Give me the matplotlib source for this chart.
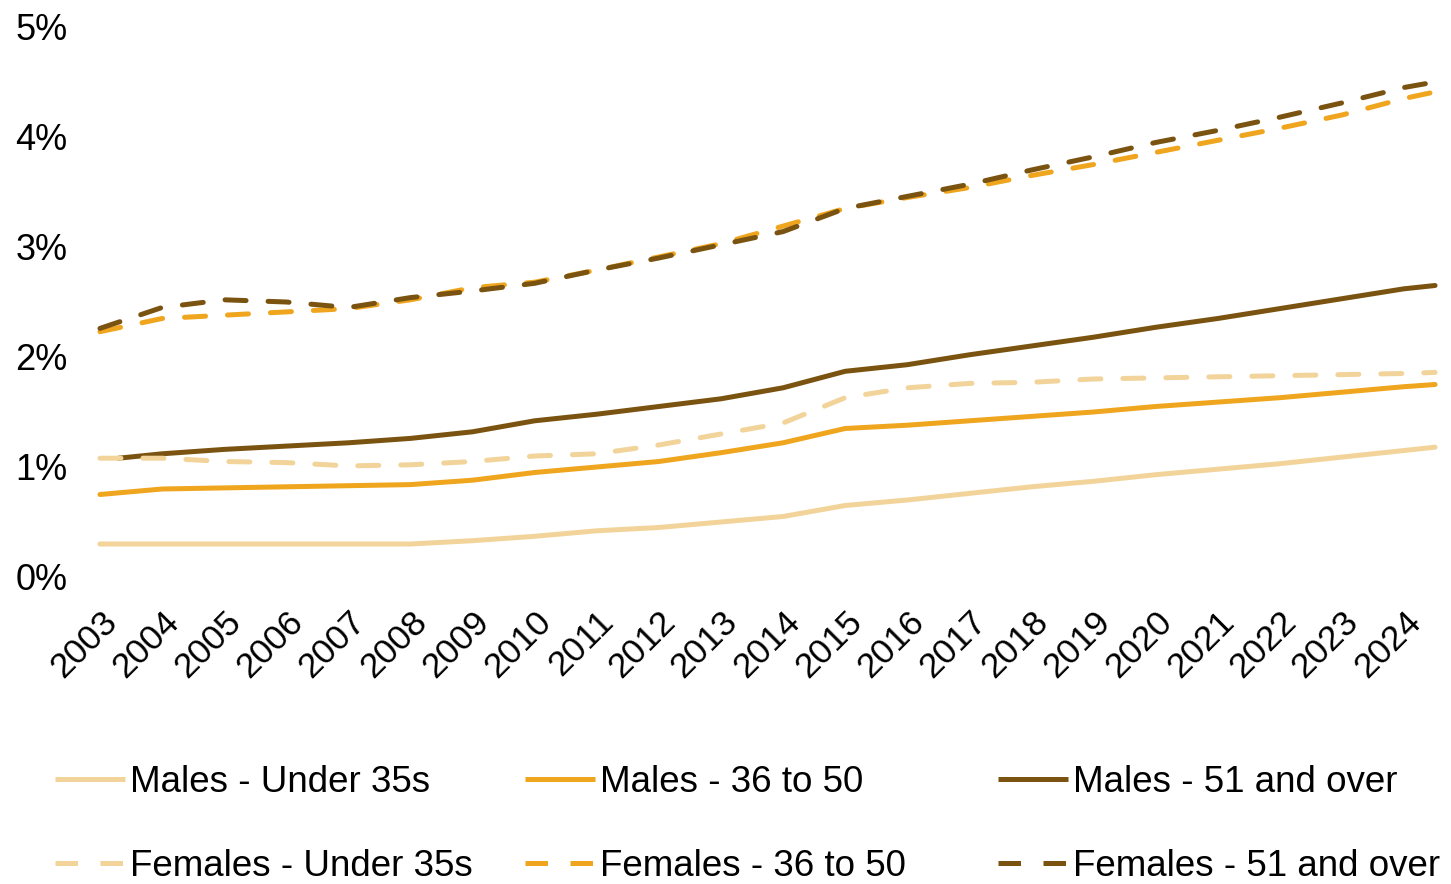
import matplotlib
matplotlib.use("Agg")
import matplotlib.pyplot as plt
from matplotlib.lines import Line2D

plt.rcParams['font.family'] = ['Liberation Sans', 'DejaVu Sans']

years = [2003, 2004, 2005, 2006, 2007, 2008, 2009, 2010, 2011, 2012, 2013,
         2014, 2015, 2016, 2017, 2018, 2019, 2020, 2021, 2022, 2023, 2024, 2024.5]
tick_years = list(range(2003, 2025))

males_u35 = [0.30, 0.30, 0.30, 0.30, 0.30, 0.30, 0.33, 0.37, 0.42, 0.45, 0.50,
             0.55, 0.65, 0.70, 0.76, 0.82, 0.87, 0.93, 0.98, 1.03, 1.09, 1.15, 1.18]
males_36_50 = [0.75, 0.80, 0.81, 0.82, 0.83, 0.84, 0.88, 0.95, 1.00, 1.05, 1.13,
               1.22, 1.35, 1.38, 1.42, 1.46, 1.50, 1.55, 1.59, 1.63, 1.68, 1.73, 1.75]
males_51_x = [2003.3] + years[1:]
males_51 = [1.08, 1.12, 1.16, 1.19, 1.22, 1.26, 1.32, 1.42, 1.48, 1.55, 1.62,
            1.72, 1.87, 1.93, 2.02, 2.10, 2.18, 2.27, 2.35, 2.44, 2.53, 2.62, 2.65]
females_u35 = [1.08, 1.08, 1.05, 1.04, 1.01, 1.02, 1.05, 1.10, 1.12, 1.20, 1.30,
               1.40, 1.63, 1.72, 1.76, 1.77, 1.80, 1.81, 1.82, 1.83, 1.84, 1.85, 1.86]
females_36_50 = [2.23, 2.35, 2.38, 2.41, 2.44, 2.52, 2.63, 2.68, 2.79, 2.91, 3.03,
                 3.19, 3.35, 3.45, 3.54, 3.65, 3.75, 3.86, 3.97, 4.08, 4.20, 4.35, 4.41]
females_51 = [2.26, 2.45, 2.52, 2.50, 2.45, 2.54, 2.60, 2.67, 2.79, 2.90, 3.02,
              3.14, 3.35, 3.46, 3.57, 3.70, 3.82, 3.95, 4.06, 4.18, 4.31, 4.45, 4.50]

light = '#F2D49B'
orange = '#EFA51E'
dark = '#7B5310'
lw = 3.6
dash = (4.2, 4.4)

W, H = 1451, 884
fig = plt.figure(figsize=(W / 100, H / 100), dpi=100)
ax = fig.add_axes([95 / W, 1 - 577 / H, (1445 - 95) / W, (577 - 27) / H])

ax.plot(years, males_u35, color=light, lw=lw, solid_capstyle='round')
ax.plot(years, males_36_50, color=orange, lw=lw, solid_capstyle='round')
ax.plot(males_51_x, males_51, color=dark, lw=lw, solid_capstyle='round')
ax.plot(years, females_u35, color=light, lw=lw, dashes=dash, dash_capstyle='round')
ax.plot(years, females_36_50, color=orange, lw=lw, dashes=dash, dash_capstyle='round')
ax.plot(years, females_51, color=dark, lw=lw, dashes=dash, dash_capstyle='round')

ax.set_ylim(0, 5)
ax.set_xlim(2002.92, 2024.66)
ax.set_yticks([0, 1, 2, 3, 4, 5])
ax.set_yticklabels([f'{v}%' for v in range(6)], fontsize=26)
ax.set_xticks(tick_years)
ax.set_xticklabels([str(y) for y in tick_years], rotation=45, ha='right',
                   va='top', rotation_mode='anchor', fontsize=25.5)
ax.tick_params(axis='both', length=0, colors='black')
ax.tick_params(axis='x', pad=20)
ax.tick_params(axis='y', pad=20)
for s in ax.spines.values():
    s.set_visible(False)

# legend: three columns placed separately
groups = [
    (light, 'Males - Under 35s', 'Females - Under 35s', 55),
    (orange, 'Males - 36 to 50', 'Females - 36 to 50', 525),
    (dark, 'Males - 51 and over', 'Females - 51 and over', 998),
]
for col, lab_m, lab_f, xpx in groups:
    h = [Line2D([], [], color=col, lw=lw, solid_capstyle='butt'),
         Line2D([], [], color=col, lw=lw, dashes=(4.5, 4.5), dash_capstyle='butt')]
    fig.legend(h, [lab_m, lab_f], loc='upper left',
               bbox_to_anchor=(xpx / W, 1 - 765 / H), frameon=False,
               fontsize=26.5, handlelength=1.9, handletextpad=0.14,
               labelspacing=1.33, borderpad=0, borderaxespad=0)

fig.savefig('out.png', dpi=100)
